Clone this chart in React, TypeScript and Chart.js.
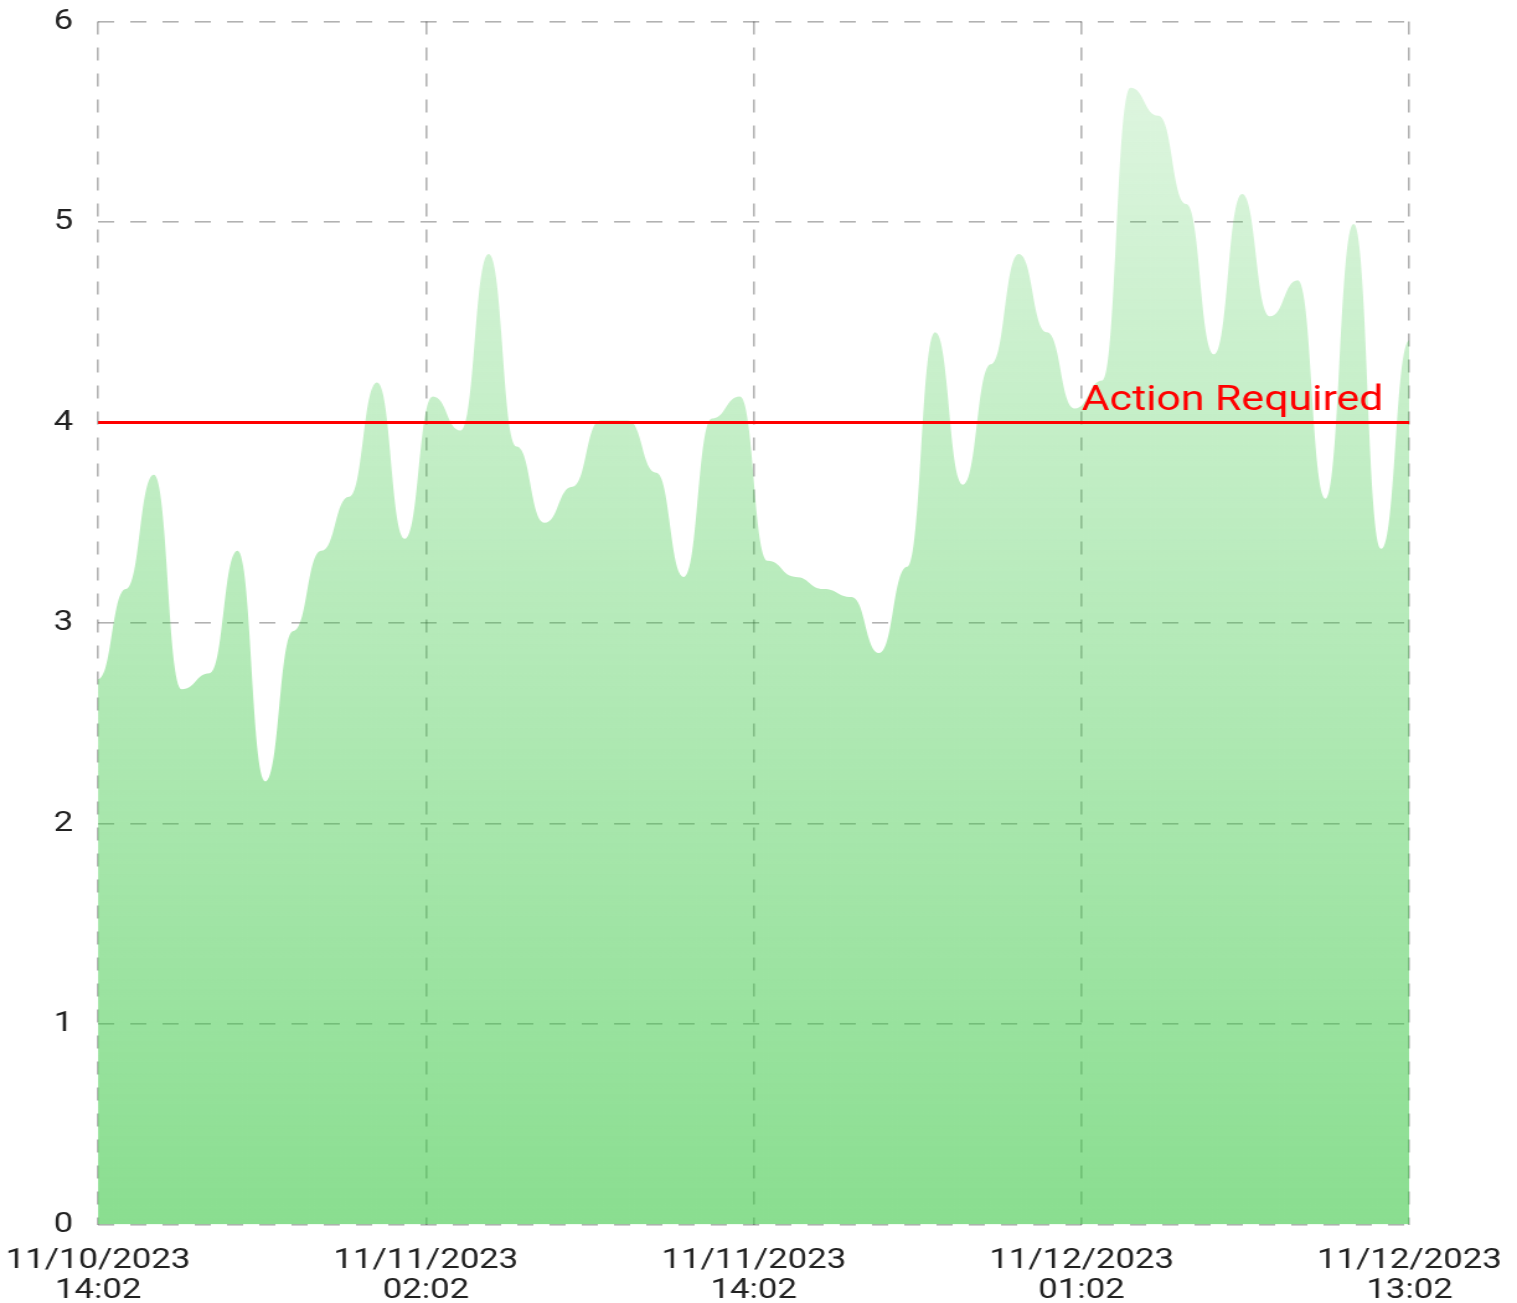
import React, { useEffect, useRef } from 'react';
import { Chart, registerables } from 'chart.js';

Chart.register(...registerables);

// ---- data ----
const values: number[] = [
  2.72, 3.17, 3.74, 2.67, 2.75, 3.36, 2.21, 2.96, 3.36, 3.63, 4.2, 3.42,
  4.13, 3.96, 4.84, 3.88, 3.5, 3.68, 4.01, 4.01, 3.75, 3.23, 4.02, 4.13,
  3.31, 3.23, 3.17, 3.13, 2.85, 3.28, 4.45, 3.69, 4.29, 4.84, 4.45, 4.07,
  4.21, 5.67, 5.53, 5.09, 4.34, 5.14, 4.53, 4.71, 3.62, 4.99, 3.37, 4.41,
];
const tickLabels: string[][] = [
  ['11/10/2023', '14:02'],
  ['11/11/2023', '02:02'],
  ['11/11/2023', '14:02'],
  ['11/12/2023', '01:02'],
  ['11/12/2023', '13:02'],
];
const yMin = 0;
const yMax = 6;
const actionThreshold = 4;
const actionLabel = 'Action Required';

// ---- geometry (picture is horizontally stretched) ----
const VIEW_W = 1517;
const VIEW_H = 1303;
const STRETCH = 1.24;
const W = Math.round(VIEW_W / STRETCH);
const PLOT_LEFT = 98 / STRETCH;
const PLOT_RIGHT = 1409 / STRETCH;
const PLOT_TOP = 21.5;
const PLOT_BOTTOM = 1224.5;

const GRID_COLOR = 'rgba(0,0,0,0.3)';
const TEXT_COLOR = '#222';

// horizontal bezier: every point gets a horizontal tangent,
// control points at the mid x between neighbours
const horizontalBezierPlugin = {
  id: 'horizontalBezier',
  beforeDatasetsDraw(chart: any) {
    chart.data.datasets.forEach((ds: any, di: number) => {
      if (!ds.horizontalBezier) return;
      const meta = chart.getDatasetMeta(di);
      const line = meta.dataset;
      if (line && line.updateControlPoints) line.updateControlPoints(chart.chartArea, 'x');
      const pts = meta.data;
      for (let i = 0; i < pts.length; i++) {
        const p = pts[i];
        const prev = pts[i - 1];
        const next = pts[i + 1];
        p.cp1x = prev ? (prev.x + p.x) / 2 : p.x;
        p.cp1y = p.y;
        p.cp2x = next ? (p.x + next.x) / 2 : p.x;
        p.cp2y = p.y;
      }
    });
  },
};

const thresholdLabelPlugin = {
  id: 'thresholdLabel',
  afterDatasetsDraw(chart: any) {
    const { ctx, chartArea, scales } = chart;
    const y = scales.y.getPixelForValue(actionThreshold);
    ctx.save();
    ctx.font = '34.5px Roboto';
    ctx.fillStyle = '#ff0000';
    ctx.textAlign = 'right';
    ctx.textBaseline = 'alphabetic';
    ctx.fillText(actionLabel, chartArea.right - 21, y - 12.5);
    ctx.restore();
  },
};

export default function App() {
  const ref = useRef<HTMLCanvasElement>(null);

  useEffect(() => {
    const canvas = ref.current!;
    canvas.width = W;
    canvas.height = VIEW_H;
    canvas.style.width = VIEW_W + 'px';
    canvas.style.height = VIEW_H + 'px';
    const n = values.length;

    const chart = new Chart(canvas, {
      type: 'line',
      data: {
        datasets: [
          {
            label: actionLabel,
            data: [
              { x: 0, y: actionThreshold },
              { x: n - 1, y: actionThreshold },
            ],
            borderColor: '#ff0000',
            borderWidth: 3,
            pointRadius: 0,
            fill: false,
            tension: 0,
            order: 0,
          },
          {
            label: 'value',
            horizontalBezier: true,
            data: values.map((v, i) => ({ x: i, y: v })),
            borderWidth: 0,
            borderColor: 'rgba(0,0,0,0)',
            pointRadius: 0,
            tension: 0.4,
            fill: 'origin',
            order: 1,
            backgroundColor: (ctx: any) => {
              const area = ctx.chart.chartArea;
              if (!area) return 'rgba(60,200,70,0.4)';
              const g = ctx.chart.ctx.createLinearGradient(0, area.top, 0, area.bottom);
              g.addColorStop(0, 'rgba(60,200,70,0.15)');
              g.addColorStop(1, 'rgba(60,200,70,0.6)');
              return g;
            },
          },
        ],
      },
      options: {
        animation: false,
        responsive: false,
        devicePixelRatio: 1,
        layout: {
          padding: { top: PLOT_TOP, right: W - PLOT_RIGHT, left: 0, bottom: 0 },
        },
        plugins: {
          legend: { display: false },
          tooltip: { enabled: false },
        },
        scales: {
          x: {
            type: 'linear',
            min: 0,
            max: n - 1,
            afterBuildTicks: (scale: any) => {
              scale.ticks = tickLabels.map((_, i) => ({
                value: (i * (n - 1)) / (tickLabels.length - 1),
              }));
            },
            afterFit: (scale: any) => {
              scale.height = VIEW_H - PLOT_BOTTOM;
              scale.paddingLeft = 0;
              scale.paddingRight = 0;
            },
            grid: { color: GRID_COLOR, lineWidth: 1.6, drawTicks: false },
            border: { display: false, dash: [13, 13] },
            ticks: {
              autoSkip: false,
              maxRotation: 0,
              minRotation: 0,
              padding: 22,
              color: TEXT_COLOR,
              font: { family: 'Roboto', size: 28, lineHeight: 1.05 },
              callback: (_v: any, i: number) => tickLabels[i],
            },
          },
          y: {
            min: yMin,
            max: yMax,
            afterFit: (scale: any) => {
              scale.width = PLOT_LEFT;
              scale.paddingTop = 0;
              scale.paddingBottom = 0;
            },
            grid: { color: GRID_COLOR, lineWidth: 1.6, drawTicks: false },
            border: { display: false, dash: [13, 13] },
            ticks: {
              stepSize: 1,
              padding: 20,
              color: TEXT_COLOR,
              font: { family: 'Roboto', size: 28 },
            },
          },
        },
      },
      plugins: [horizontalBezierPlugin, thresholdLabelPlugin],
    } as any);

    canvas.style.width = VIEW_W + 'px';
    canvas.style.height = VIEW_H + 'px';

    return () => chart.destroy();
  }, []);

  return (
    <div
      style={{
        position: 'absolute',
        left: 0,
        top: 0,
        width: VIEW_W,
        height: VIEW_H,
        background: '#fff',
      }}
    >
      <canvas
        ref={ref}
        width={W}
        height={VIEW_H}
        style={{ width: VIEW_W, height: VIEW_H, display: 'block' }}
      />
    </div>
  );
}
